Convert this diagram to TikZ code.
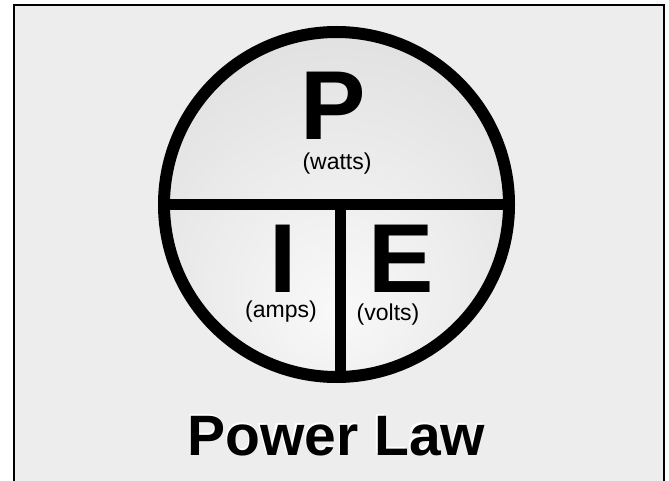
\documentclass[tikz,border=0pt]{standalone}
\usepackage{xcolor}
\usepackage{fontspec}
\setmainfont{Liberation Sans}
\usepackage{tikz}
\usetikzlibrary{positioning,calc,shapes}
\definecolor{panel}{HTML}{EDEDED}
\definecolor{pielight}{HTML}{F9F9F9}
\definecolor{piedark}{HTML}{D6D6D6}
\definecolor{ink}{HTML}{000000}
\pgfdeclareradialshading[pielight,piedark]{pieshade}{\pgfpoint{0bp}{-16bp}}{color(0bp)=(pielight); color(50bp)=(piedark); color(80bp)=(piedark)}
\tikzset{
    pie/.style={circle, draw=ink, line width=12pt, inner sep=0pt, minimum size=345pt, shading=pieshade},
    divider/.style={draw=ink, line width=11pt},
    letter/.style={anchor=base, inner sep=0pt, font=\fontsize{98}{98}\selectfont\bfseries},
    unitlbl/.style={anchor=base, inner sep=0pt, font=\fontsize{23}{23}\selectfont},
    title/.style={anchor=base, inner sep=0pt, font=\fontsize{57}{57}\selectfont\bfseries}
}

\begin{document}
\begin{tikzpicture}[x=1pt, y=-1pt]
\useasboundingbox (0,0) rectangle (669,481);

% Panel
\fill[panel] (14,5) rectangle (663.5,481);
\draw[line width=2pt, ink] (14,481) -- (14,5) -- (663.5,5) -- (663.5,481);

% Circle and dividers
\node[pie] (circ) at (336.5,204.5) {};
\draw[divider] (circ.west) -- (circ.east);
\draw[divider] ([xshift=3.5pt]circ.center) -- ([xshift=3.5pt]circ.south);

% Letters
\node[letter] (pw) at (333.5,140) {P};
\node[unitlbl] (watts) at (337,170) {(watts)};
\node[letter] (iw) at (283.5,292) {I};
\node[unitlbl] (amps) at (281,317) {(amps)};
\node[letter] (ew) at (401.5,292) {E};
\node[unitlbl] (volts) at (388,320) {(volts)};

% Title
\node[title, text=white] (shadow) at (335,453.5) {Power Law};
\node[title, text=ink] (law) at (336.5,455) {Power Law};

\end{tikzpicture}
\end{document}
